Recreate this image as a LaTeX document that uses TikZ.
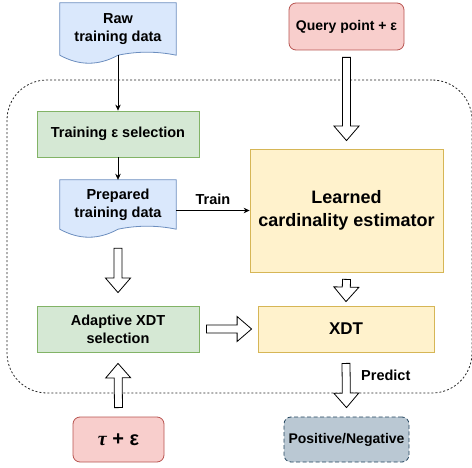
\documentclass[tikz,border=0pt]{standalone}
\usepackage{fontspec}
\setmainfont{Liberation Sans}
\newfontfamily\serifgreek{Liberation Serif}
\usetikzlibrary{calc,arrows.meta,backgrounds}
\definecolor{bluefill}{HTML}{DAE8FC}\definecolor{bluedraw}{HTML}{6C8EBF}
\definecolor{greenfill}{HTML}{D5E8D4}\definecolor{greendraw}{HTML}{82B366}
\definecolor{yellowfill}{HTML}{FFF2CC}\definecolor{yellowdraw}{HTML}{D6B656}
\definecolor{redfill}{HTML}{F8CECC}\definecolor{reddraw}{HTML}{B85450}
\definecolor{grayfill}{HTML}{BAC8D3}\definecolor{graydraw}{HTML}{23445D}
\newcommand\hollowarrow[2]{%
  \path #1 coordinate (hS);
  \path #2 coordinate (hE);
  \coordinate (hH) at ($(hE)!14.5pt!(hS)$);
  \draw[harrow] ($(hS)!4pt!90:(hE)$) -- ($(hH)!4pt!-90:(hS)$) -- ($(hH)!12.5pt!-90:(hS)$) -- (hE)
    -- ($(hH)!12.5pt!90:(hS)$) -- ($(hH)!4pt!90:(hS)$) -- ($(hS)!4pt!-90:(hE)$) -- cycle;}
\begin{document}
\begin{tikzpicture}[x=1pt,y=-1pt,
  txt/.style={font=\fontsize{14.5}{18}\selectfont\bfseries, align=center, inner sep=0pt},
  box/.style={txt, draw, line width=0.8pt},
  bluebox/.style={txt, minimum width=116pt},
  docline/.style={fill=bluefill, draw=bluedraw, line width=0.8pt},
  greenbox/.style={box, fill=greenfill, draw=greendraw},
  yellowbox/.style={box, fill=yellowfill, draw=yellowdraw},
  redbox/.style={box, fill=redfill, draw=reddraw, rounded corners=7pt},
  graybox/.style={box, fill=grayfill, draw=graydraw, rounded corners=7pt, dash pattern=on 4pt off 2.5pt},
  frame/.style={draw=black!85, line width=0.8pt, dash pattern=on 2pt off 2pt, rounded corners=40pt},
  thinarrow/.style={draw=black, line width=0.8pt, -{Stealth[length=6pt,width=5.5pt]}},
  harrow/.style={draw=black, line width=0.8pt, fill=white, line join=miter}
]
\useasboundingbox (0,0) rectangle (472,468);
\node[frame, minimum width=465pt, minimum height=313pt] (frame) at (239.5,236.5) {};

% nodes
\node[bluebox, minimum height=52pt] (raw) at (118,29) {Raw\\training data};
\node[redbox, minimum width=115pt, minimum height=47pt, font=\fontsize{14}{17}\selectfont\bfseries] (query) at (346.5,26.5) {Query point + ε};
\node[greenbox, minimum width=162pt, minimum height=46pt] (tsel) at (118,134) {Training ε selection};
\node[bluebox, minimum height=49pt] (prep) at (118,204.5) {Prepared\\training data};
\node[yellowbox, minimum width=193pt, minimum height=123pt, font=\fontsize{18}{23}\selectfont\bfseries] (learned) at (346.5,210.5) {Learned\\cardinality estimator};
\node[greenbox, minimum width=162pt, minimum height=46pt] (adapt) at (118,329) {Adaptive XDT\\selection};
\node[yellowbox, minimum width=176pt, minimum height=46pt, font=\fontsize{17}{20}\selectfont\bfseries] (xdt) at (346,329) {XDT};
\node[redbox, minimum width=91pt, minimum height=45pt, font=\fontsize{20}{24}\selectfont\bfseries] (tau) at (118.5,439.5) {{\serifgreek\bfseries\itshape τ} + ε};
\node[graybox, minimum width=125pt, minimum height=45pt, font=\fontsize{14}{17}\selectfont\bfseries] (pos) at (346.5,439.5) {Positive/Negative};

% document shapes
\begin{scope}[on background layer]
\draw[docline] (raw.north west) -- (raw.north east) -- (raw.south east)
  .. controls ($(raw.south east)+(-19.3,-4)$) and ($(raw.south)+(19.3,-4)$) .. (raw.south)
  .. controls ($(raw.south)+(-19.3,10.7)$) and ($(raw.south west)+(19.3,10.7)$) .. (raw.south west) -- cycle;
\draw[docline] (prep.north west) -- (prep.north east) -- (prep.south east)
  .. controls ($(prep.south east)+(-19.3,-4)$) and ($(prep.south)+(19.3,-4)$) .. (prep.south)
  .. controls ($(prep.south)+(-19.3,10.7)$) and ($(prep.south west)+(19.3,10.7)$) .. (prep.south west) -- cycle;
\end{scope}

% thin connectors
\draw[thinarrow] (raw.south) -- (tsel.north);
\draw[thinarrow] (tsel.south) -- (prep.north);
\draw[thinarrow] (prep.east |- learned.west) -- node[txt, above=5pt] {Train} (learned.west);

% hollow arrows
\hollowarrow{($(query.south)+(0,7)$)}{($(learned.north)+(0,-8)$)}
\hollowarrow{($(learned.south)+(0,7)$)}{($(xdt.north)+(0,-4)$)}
\hollowarrow{($(prep.south)+(0,19)$)}{($(adapt.north)+(0,-13)$)}
\hollowarrow{($(adapt.east)+(7,0)$)}{($(xdt.west)+(-6,0)$)}
\hollowarrow{($(tau.north)+(0,-9)$)}{($(adapt.south)+(0,11)$)}
\hollowarrow{($(xdt.south)+(0,11)$)}{($(pos.north)+(0,-9)$)}
\node[txt, anchor=west] (predict) at (361,375) {Predict};
\end{tikzpicture}
\end{document}
